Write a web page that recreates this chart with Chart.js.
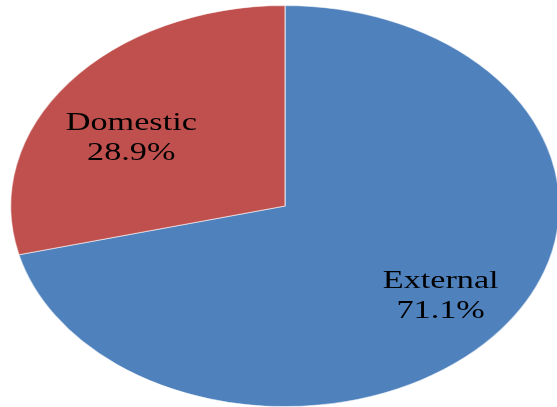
<!DOCTYPE html>
<html>
<head>
<meta charset="utf-8">
<script src="https://cdn.jsdelivr.net/npm/chart.js@4/dist/chart.umd.min.js"></script>
<style>
  html, body { margin: 0; padding: 0; background: #fff; }
  canvas { display: block; }
</style>
</head>
<body>
<canvas id="pie" width="557" height="407"></canvas>
<script>
const categories = ['External', 'Domestic'];
const shares = [71.1, 28.9];
const colors = ['#4F81BD', '#C0504D'];

// horizontal stretch, turns the round pie into an ellipse
const stretchX = 275 / 201;

const ellipse = {
  id: 'ellipse',
  beforeDatasetsDraw(chart) {
    const arc = chart.getDatasetMeta(0).data[0];
    const ctx = chart.ctx;
    ctx.save();
    ctx.translate(arc.x, arc.y);
    ctx.scale(stretchX, 1);
    ctx.translate(-arc.x, -arc.y);
  },
  afterDatasetsDraw(chart, args, opts) {
    const ctx = chart.ctx;
    ctx.restore();

    chart.getDatasetMeta(0).data.forEach((arc, i) => {
      const p = arc.getProps(['x', 'y', 'startAngle', 'endAngle', 'outerRadius']);
      const mid = (p.startAngle + p.endAngle) / 2;
      const r = p.outerRadius * opts.radius[i];
      const nudge = opts.nudge[i];
      const cx = p.x + Math.cos(mid) * r * stretchX + nudge[0];
      const cy = p.y + Math.sin(mid) * r + nudge[1];

      ctx.save();
      ctx.translate(cx, cy);
      ctx.scale(stretchX, 1);
      ctx.fillStyle = '#000';
      ctx.font = '25px "Liberation Serif", "Times New Roman", serif';
      ctx.textAlign = 'center';
      ctx.textBaseline = 'alphabetic';
      ctx.fillText(categories[i], 0, -7);
      ctx.fillText(shares[i].toFixed(1) + '%', 0, 23);
      ctx.restore();
    });
  }
};

new Chart(document.getElementById('pie'), {
  type: 'pie',
  data: {
    labels: categories,
    datasets: [{
      data: shares,
      backgroundColor: colors,
      borderColor: 'rgba(255,255,255,0.55)',
      borderWidth: 1,
      hoverOffset: 0
    }]
  },
  options: {
    responsive: false,
    animation: false,
    events: [],
    layout: { padding: { left: 13, right: 0, top: 5, bottom: 0 } },
    plugins: {
      legend: { display: false },
      tooltip: { enabled: false },
      ellipse: {
        radius: [0.72, 0.66],
        nudge: [[0, 0], [-11, 12]]
      }
    }
  },
  plugins: [ellipse]
});
</script>
</body>
</html>
